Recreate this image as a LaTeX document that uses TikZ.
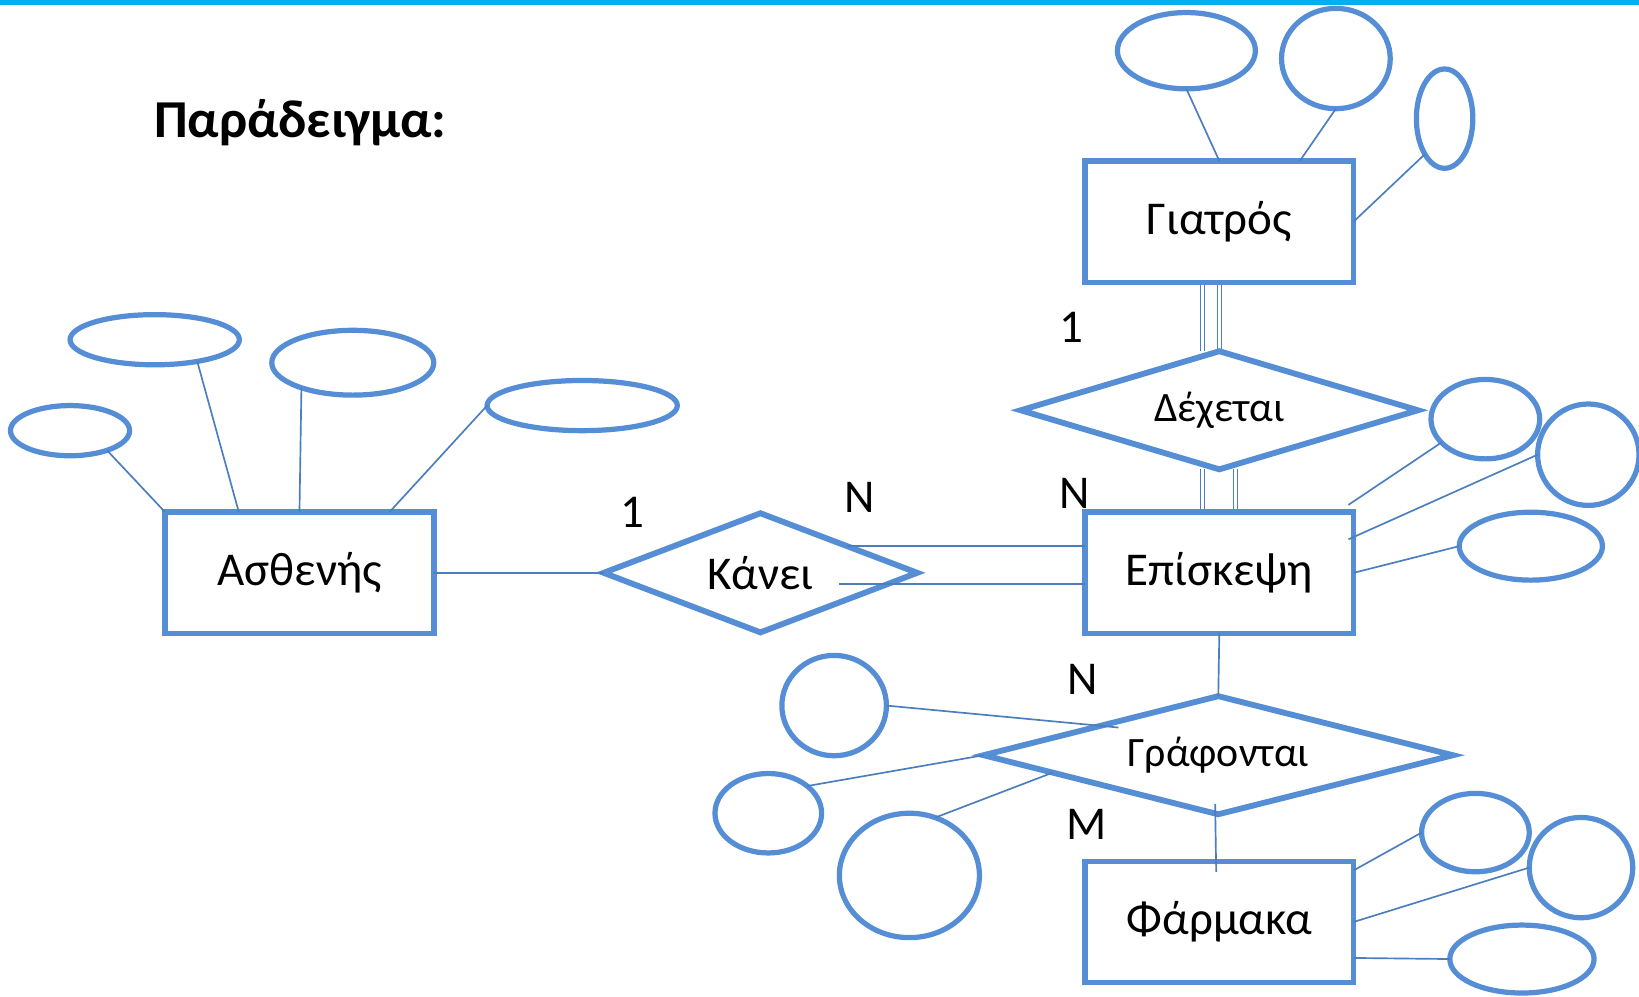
\documentclass[tikz,border=0pt]{standalone}
\usepackage{fontspec}
\setmainfont{Carlito}
\usetikzlibrary{shapes.geometric,backgrounds}
\definecolor{erblue}{RGB}{85,142,213}
\definecolor{linkblue}{RGB}{74,126,190}
\definecolor{barcyan}{RGB}{0,176,240}

\begin{document}
\begin{tikzpicture}[x=0.5pt,y=-0.5pt,
  entity/.style={draw=erblue, line width=2.6pt, minimum width=128.5pt, minimum height=58pt,
    inner sep=0pt, outer sep=0pt, font=\fontsize{22.5}{27}\selectfont},
  relation/.style={diamond, draw=erblue, line width=2.8pt, inner sep=0pt, outer sep=0pt},
  attr/.style={ellipse, draw=erblue, line width=2.5pt, inner sep=0pt, outer sep=0pt},
  link/.style={draw=linkblue, line width=0.8pt},
  dbl/.style={draw=linkblue, line width=0.6pt, double=white, double distance=1.4pt},
  card/.style={font=\fontsize{22.5}{27}\selectfont, inner sep=0pt}]
  \useasboundingbox (0,0) rectangle (1568,953);

  % Top bar and title
  \fill[barcyan] (0,0) rectangle (1568,5);
  \node[anchor=base west, inner sep=0pt, font=\fontsize{25.5}{30}\selectfont\bfseries] (title) at (147,132) {Παράδειγμα:};

  % Entities
  \node[entity] (asth) at (286.5,548) {Ασθενής};
  \node[entity] (giatros) at (1166.5,212) {Γιατρός};
  \node[entity] (episk) at (1166.5,548) {Επίσκεψη};
  \node[entity] (farm) at (1166.5,882) {Φάρμακα};

  % Relationships
  \node[relation, shape aspect=2.63, minimum width=150pt, minimum height=57pt,
    font=\fontsize{22.5}{27}\selectfont] (kanei) at (727.5,548) {Κάνει};
  \node[relation, shape aspect=3.37, minimum width=190pt, minimum height=56.5pt,
    font=\fontsize{20}{24}\selectfont] (dex) at (1166.5,392.5) {Δέχεται};
  \node[relation, shape aspect=3.96, minimum width=224.5pt, minimum height=56.5pt,
    font=\fontsize{20}{24}\selectfont] (graf) at (1165.5,722.5) {Γράφονται};

  % Attributes of Ασθενής
  \node[attr, minimum width=57pt, minimum height=24pt] (a1) at (67,412) {};
  \node[attr, minimum width=81pt, minimum height=24pt] (a2) at (148,325) {};
  \node[attr, minimum width=77.5pt, minimum height=31pt] (a3) at (337.5,347) {};
  \node[attr, minimum width=91pt, minimum height=24pt] (a4) at (557,388) {};

  % Attributes of Γιατρός
  \node[attr, minimum width=66pt, minimum height=36.5pt] (g1) at (1135,48.5) {};
  \node[attr, minimum width=52pt, minimum height=48pt] (g2) at (1278,56) {};
  \node[attr, minimum width=27pt, minimum height=47.5pt] (g3) at (1382,113.5) {};

  % Attributes of Επίσκεψη
  \node[attr, minimum width=52pt, minimum height=38pt] (e1) at (1421,401) {};
  \node[attr, minimum width=48.5pt, minimum height=48.5pt] (e2) at (1519.5,435) {};
  \node[attr, minimum width=68.5pt, minimum height=32.5pt] (e3) at (1464.5,522.5) {};

  % Attributes of Γράφονται
  \node[attr, minimum width=50pt, minimum height=48pt] (r1) at (798,675) {};
  \node[attr, minimum width=51pt, minimum height=38pt] (r2) at (735,778) {};
  \node[attr, minimum width=67pt, minimum height=59.5pt] (r3) at (870,837.5) {};

  % Attributes of Φάρμακα
  \node[attr, minimum width=51.5pt, minimum height=37.5pt] (f1) at (1411.5,796.5) {};
  \node[attr, minimum width=49.5pt, minimum height=48pt] (f2) at (1512.5,830) {};
  \node[attr, minimum width=69pt, minimum height=32.5pt] (f3) at (1456,917.5) {};

  % Cardinalities
  \node[card] (c1) at (1025,313) {1};
  \node[card] (c2) at (1028,472) {N};
  \node[card] (c3) at (605,490) {1};
  \node[card] (c4) at (822,476) {N};
  \node[card] (c5) at (1036,650) {N};
  \node[card] (c6) at (1040,789) {M};

  % Attribute links
  \draw[link] (a1.-28) -- (asth.north west);
  \draw[link] (a2.-27) -- (asth.135);
  \draw[link] (a3.-154) -- (asth.north);
  \draw[link] (a4.west) -- (asth.34);
  \draw[link] (g1.south) -- (giatros.north);
  \draw[link] (g2.south) -- (giatros.37.5);
  \draw[link] (g3.-119) -- (giatros.east);
  \draw[link] (e1.-152) -- ([shift={(-2.5pt,3.5pt)}]episk.north east);
  \draw[link] (e2.west) -- ([xshift=-2.5pt]episk.14.4);
  \draw[link] (e3.west) -- (episk.east);
  \coordinate (rin) at (1070,696);
  \draw[link] (r1.east) -- (rin);
  \draw[link] (r2.35) -- (graf.west);
  \draw[link] (r3.66) -- (graf.-174.7);
  \draw[link] (f1.west) -- (farm.21);
  \draw[link] (f2.west) -- (farm.east);
  \draw[link] (f3.west) -- (farm.-15);

  % Relationship links
  \draw[link] (asth.east) -- (kanei.west);
  \draw[link] (kanei.17) -- (episk.west |- kanei.17);
  \coordinate (kin) at (803,559);
  \draw[link] (kin) -- (episk.west |- kin);
  \draw[link] (episk.south) -- (graf.north);
  \draw[link] ([shift={(-1.5pt,5pt)}]graf.south) -- ([shift={(-1.5pt,-5pt)}]farm.north);

  \begin{scope}[on background layer]
    \fill[white] (0,0) rectangle (1568,953);
    \draw[dbl] ([xshift=-8pt]giatros.south) -- ([xshift=-8pt]dex.north);
    \draw[dbl] (giatros.south) -- (dex.north);
    \draw[dbl] ([xshift=-8pt]dex.south) -- ([xshift=-8pt]episk.north);
    \draw[dbl] ([xshift=7.75pt]dex.south) -- ([xshift=7.75pt]episk.north);
  \end{scope}
\end{tikzpicture}
\end{document}
